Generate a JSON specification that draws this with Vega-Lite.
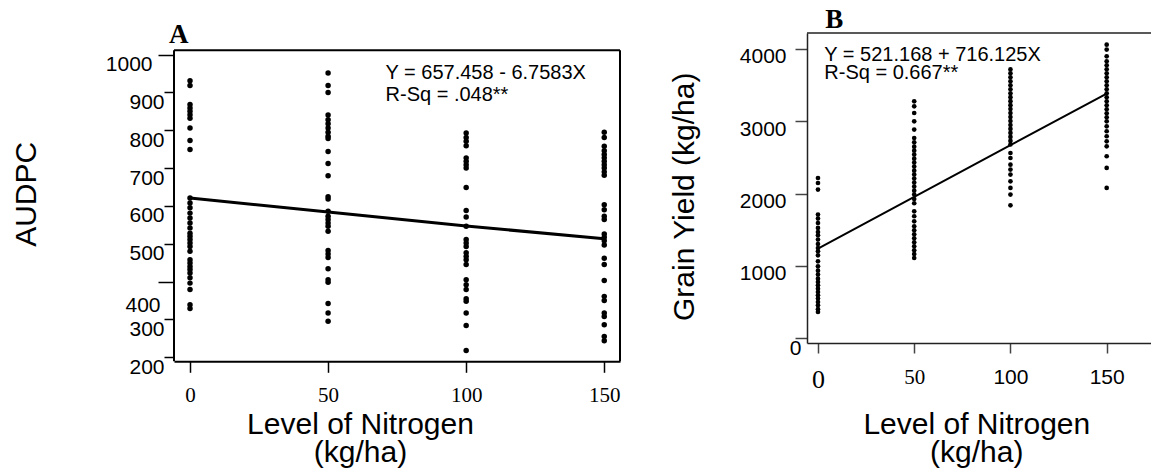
{
  "$schema": "https://vega.github.io/schema/vega-lite/v6.json",
  "padding": {"left": 10, "top": 6, "right": 0, "bottom": 0},
  "background": "white",
  "spacing": 48,
  "config": {
    "font": "Liberation Sans",
    "view": {"stroke": null},
    "axis": {"grid": false, "labelColor": "black", "titleColor": "black", "tickColor": "black", "labelOverlap": false, "labelFlush": false}
  },
  "datasets": {
    "audpc": [
      {"n":0,"v":931},{"n":0,"v":918},{"n":0,"v":868},{"n":0,"v":859},{"n":0,"v":850},{"n":0,"v":841},{"n":0,"v":832},{"n":0,"v":806},{"n":0,"v":773},{"n":0,"v":749},{"n":0,"v":621},{"n":0,"v":608},{"n":0,"v":595},{"n":0,"v":581},{"n":0,"v":568},{"n":0,"v":555},{"n":0,"v":542},{"n":0,"v":528},{"n":0,"v":520},{"n":0,"v":511},{"n":0,"v":502},{"n":0,"v":493},{"n":0,"v":480},{"n":0,"v":458},{"n":0,"v":449},{"n":0,"v":440},{"n":0,"v":432},{"n":0,"v":423},{"n":0,"v":410},{"n":0,"v":396},{"n":0,"v":379},{"n":0,"v":339},{"n":0,"v":329},
      {"n":50,"v":951},{"n":50,"v":918},{"n":50,"v":900},{"n":50,"v":840},{"n":50,"v":828},{"n":50,"v":817},{"n":50,"v":806},{"n":50,"v":795},{"n":50,"v":784},{"n":50,"v":778},{"n":50,"v":744},{"n":50,"v":712},{"n":50,"v":680},{"n":50,"v":624},{"n":50,"v":618},{"n":50,"v":586},{"n":50,"v":573},{"n":50,"v":564},{"n":50,"v":555},{"n":50,"v":546},{"n":50,"v":533},{"n":50,"v":482},{"n":50,"v":473},{"n":50,"v":464},{"n":50,"v":434},{"n":50,"v":405},{"n":50,"v":398},{"n":50,"v":342},{"n":50,"v":317},{"n":50,"v":295},
      {"n":100,"v":793},{"n":100,"v":781},{"n":100,"v":771},{"n":100,"v":759},{"n":100,"v":727},{"n":100,"v":718},{"n":100,"v":709},{"n":100,"v":700},{"n":100,"v":649},{"n":100,"v":588},{"n":100,"v":571},{"n":100,"v":546},{"n":100,"v":511},{"n":100,"v":502},{"n":100,"v":493},{"n":100,"v":476},{"n":100,"v":467},{"n":100,"v":458},{"n":100,"v":445},{"n":100,"v":405},{"n":100,"v":392},{"n":100,"v":379},{"n":100,"v":355},{"n":100,"v":348},{"n":100,"v":317},{"n":100,"v":284},{"n":100,"v":218},
      {"n":150,"v":795},{"n":150,"v":781},{"n":150,"v":758},{"n":150,"v":746},{"n":150,"v":736},{"n":150,"v":727},{"n":150,"v":718},{"n":150,"v":709},{"n":150,"v":700},{"n":150,"v":690},{"n":150,"v":681},{"n":150,"v":603},{"n":150,"v":590},{"n":150,"v":573},{"n":150,"v":564},{"n":150,"v":526},{"n":150,"v":517},{"n":150,"v":508},{"n":150,"v":497},{"n":150,"v":462},{"n":150,"v":445},{"n":150,"v":403},{"n":150,"v":361},{"n":150,"v":350},{"n":150,"v":317},{"n":150,"v":308},{"n":150,"v":286},{"n":150,"v":255},{"n":150,"v":244}
    ],
    "audpcFit": [{"n":0,"v":621},{"n":50,"v":584},{"n":100,"v":547},{"n":150,"v":513}],
    "grain": [
      {"n":0,"v":2216},{"n":0,"v":2147},{"n":0,"v":2055},{"n":0,"v":1709},{"n":0,"v":1654},{"n":0,"v":1593},{"n":0,"v":1524},{"n":0,"v":1468},{"n":0,"v":1422},{"n":0,"v":1363},{"n":0,"v":1302},{"n":0,"v":1247},{"n":0,"v":1201},{"n":0,"v":1145},{"n":0,"v":1062},{"n":0,"v":993},{"n":0,"v":933},{"n":0,"v":878},{"n":0,"v":822},{"n":0,"v":776},{"n":0,"v":730},{"n":0,"v":684},{"n":0,"v":637},{"n":0,"v":591},{"n":0,"v":546},{"n":0,"v":499},{"n":0,"v":453},{"n":0,"v":400},{"n":0,"v":360},
      {"n":50,"v":3278},{"n":50,"v":3209},{"n":50,"v":3116},{"n":50,"v":3001},{"n":50,"v":2886},{"n":50,"v":2770},{"n":50,"v":2710},{"n":50,"v":2650},{"n":50,"v":2595},{"n":50,"v":2540},{"n":50,"v":2484},{"n":50,"v":2429},{"n":50,"v":2374},{"n":50,"v":2318},{"n":50,"v":2263},{"n":50,"v":2208},{"n":50,"v":2152},{"n":50,"v":2097},{"n":50,"v":2041},{"n":50,"v":1986},{"n":50,"v":1925},{"n":50,"v":1866},{"n":50,"v":1755},{"n":50,"v":1686},{"n":50,"v":1616},{"n":50,"v":1547},{"n":50,"v":1492},{"n":50,"v":1436},{"n":50,"v":1381},{"n":50,"v":1325},{"n":50,"v":1270},{"n":50,"v":1215},{"n":50,"v":1163},{"n":50,"v":1108},
      {"n":100,"v":3720},{"n":100,"v":3665},{"n":100,"v":3610},{"n":100,"v":3555},{"n":100,"v":3500},{"n":100,"v":3445},{"n":100,"v":3390},{"n":100,"v":3335},{"n":100,"v":3280},{"n":100,"v":3225},{"n":100,"v":3170},{"n":100,"v":3115},{"n":100,"v":3060},{"n":100,"v":3005},{"n":100,"v":2950},{"n":100,"v":2895},{"n":100,"v":2840},{"n":100,"v":2785},{"n":100,"v":2730},{"n":100,"v":2680},{"n":100,"v":2562},{"n":100,"v":2493},{"n":100,"v":2401},{"n":100,"v":2332},{"n":100,"v":2263},{"n":100,"v":2170},{"n":100,"v":2078},{"n":100,"v":1986},{"n":100,"v":1838},
      {"n":150,"v":4063},{"n":150,"v":3994},{"n":150,"v":3901},{"n":150,"v":3832},{"n":150,"v":3777},{"n":150,"v":3722},{"n":150,"v":3666},{"n":150,"v":3611},{"n":150,"v":3555},{"n":150,"v":3500},{"n":150,"v":3445},{"n":150,"v":3389},{"n":150,"v":3334},{"n":150,"v":3278},{"n":150,"v":3223},{"n":150,"v":3168},{"n":150,"v":3112},{"n":150,"v":3057},{"n":150,"v":3001},{"n":150,"v":2932},{"n":150,"v":2863},{"n":150,"v":2794},{"n":150,"v":2724},{"n":150,"v":2655},{"n":150,"v":2517},{"n":150,"v":2355},{"n":150,"v":2078}
    ],
    "grainFit": [{"n":0,"v":1237},{"n":50,"v":1953},{"n":100,"v":2670},{"n":150,"v":3386}]
  },
  "hconcat": [
    {
      "width": 446,
      "height": 328.3,
      "layer": [
        {
          "data": {"name": "audpc"},
          "mark": {"type": "circle", "size": 30, "color": "black", "opacity": 1},
          "encoding": {
            "x": {"field": "n", "type": "quantitative",
              "scale": {"domain": [-5.8, 155.7], "nice": false, "zero": false},
              "axis": {"values": [0, 50, 100, 150], "format": "d", "title": ["Level of Nitrogen", "(kg/ha)"],
                "titleFont": "Liberation Sans", "titleFontSize": 30, "titleFontWeight": "normal", "titleLineHeight": 28,
                "titleBaseline": "alphabetic", "titleX": 186, "titleY": 72,
                "labelFont": "Liberation Serif", "labelFontSize": 21, "labelPadding": 12, "labelAngle": 0, "labelOverlap": false,
                "tickSize": 11, "tickWidth": 1.5, "domain": true, "domainColor": "black", "domainWidth": 2}},
            "y": {"field": "v", "type": "quantitative",
              "scale": {"domain": [189.4, 1057.0], "nice": false, "zero": false},
              "axis": {"values": [200, 300, 400, 500, 600, 700, 800, 900, 1000], "format": "d", "title": "AUDPC",
                "titleFont": "Liberation Sans", "titleFontSize": 30, "titleFontWeight": "normal", "titleAngle": 270,
                "titleBaseline": "alphabetic", "titleAlign": "center", "titleX": -139, "titleY": 160.8,
                "labelFont": "Liberation Sans", "labelFontSize": 21, "labelBaseline": "middle", "labelOverlap": false, "labelSeparation": -12,
                "labelOffset": {"condition": {"test": "datum.value == 400", "value": 24}, "value": 10},
                "labelPadding": {"condition": [{"test": "datum.value == 1000", "value": 6}, {"test": "datum.value == 400", "value": -2}], "value": 0},
                "tickSize": {"condition": {"test": "datum.value == 1000 || datum.value == 400", "value": 16}, "value": 10},
                "tickWidth": 1.5, "domain": false}}
          }
        },
        {
          "data": {"name": "audpcFit"},
          "mark": {"type": "line", "color": "black", "strokeWidth": 3},
          "encoding": {"x": {"field": "n", "type": "quantitative"}, "y": {"field": "v", "type": "quantitative"}}
        },
        {
          "data": {"values": [{"edge": "top"}]},
          "mark": {"type": "rule", "color": "black", "strokeWidth": 2},
          "encoding": {"y": {"datum": 1011.3, "type": "quantitative"}}
        },
        {
          "data": {"values": [{"edge": "left"}]},
          "mark": {"type": "rule", "color": "black", "strokeWidth": 2},
          "encoding": {"x": {"datum": -5.8, "type": "quantitative"}, "y": {"datum": 189.4, "type": "quantitative"}, "y2": {"datum": 1011.3}}
        },
        {
          "data": {"values": [{"edge": "right"}]},
          "mark": {"type": "rule", "color": "black", "strokeWidth": 2},
          "encoding": {"x": {"datum": 155.7, "type": "quantitative"}, "y": {"datum": 189.4, "type": "quantitative"}, "y2": {"datum": 1011.3}}
        },
        {
          "data": {"values": [{"label": "A"}]},
          "mark": {"type": "text", "align": "left", "baseline": "alphabetic", "font": "Liberation Serif", "fontSize": 27, "fontWeight": "bold", "color": "black"},
          "encoding": {"x": {"datum": -7.6, "type": "quantitative"}, "y": {"datum": 1029.8, "type": "quantitative"}, "text": {"field": "label"}}
        },
        {
          "data": {"values": [{"label": "Y = 657.458 - 6.7583X"}]},
          "mark": {"type": "text", "align": "left", "baseline": "alphabetic", "fontSize": 20, "color": "black"},
          "encoding": {"x": {"datum": 70.8, "type": "quantitative"}, "y": {"datum": 935, "type": "quantitative"}, "text": {"field": "label"}}
        },
        {
          "data": {"values": [{"label": "R-Sq = .048**"}]},
          "mark": {"type": "text", "align": "left", "baseline": "alphabetic", "fontSize": 20, "color": "black"},
          "encoding": {"x": {"datum": 70.8, "type": "quantitative"}, "y": {"datum": 876.5, "type": "quantitative"}, "text": {"field": "label"}}
        }
      ]
    },
    {
      "width": 345.3,
      "height": 310,
      "layer": [
        {
          "data": {"name": "grain"},
          "mark": {"type": "circle", "size": 22, "color": "black", "opacity": 1},
          "encoding": {
            "x": {"field": "n", "type": "quantitative",
              "scale": {"domain": [-5.7, 173.7], "nice": false, "zero": false},
              "axis": {"values": [0, 50, 100, 150], "format": "d", "title": ["Level of Nitrogen", "(kg/ha)"],
                "titleFont": "Liberation Sans", "titleFontSize": 30, "titleFontWeight": "normal", "titleLineHeight": 28,
                "titleBaseline": "alphabetic", "titleX": 169.3, "titleY": 90.3,
                "labelFont": {"condition": {"test": "datum.value <= 50", "value": "Liberation Serif"}, "value": "Liberation Sans"},
                "labelFontSize": {"condition": {"test": "datum.value == 0", "value": 26}, "value": 21},
                "labelPadding": 13.3, "labelAngle": 0, "labelOverlap": false,
                "tickSize": 10, "tickColor": "#444", "tickWidth": 1.5, "domainColor": "#222", "domainWidth": 1.5}},
            "y": {"field": "v", "type": "quantitative",
              "scale": {"domain": [-69, 4224], "nice": false, "zero": false},
              "axis": {"values": [0, 1000, 2000, 3000, 4000], "format": "d", "title": "Grain Yield (kg/ha)",
                "titleFont": "Liberation Sans", "titleFontSize": 30, "titleFontWeight": "normal", "titleAngle": 270,
                "titleBaseline": "alphabetic", "titleAlign": "center", "titleX": -113.7, "titleY": 163.3,
                "labelFont": "Liberation Sans", "labelFontSize": 21, "labelBaseline": "middle", "labelOverlap": false,
                "labelOffset": {"condition": {"test": "datum.value == 0", "value": 10}, "value": 7.7},
                "labelPadding": {"condition": {"test": "datum.value == 0", "value": -6}, "value": 9},
                "tickSize": 12, "tickColor": "#444", "tickWidth": 1.5, "domainColor": "#222", "domainWidth": 1.5}}
          }
        },
        {
          "data": {"name": "grainFit"},
          "mark": {"type": "line", "color": "black", "strokeWidth": 2},
          "encoding": {"x": {"field": "n", "type": "quantitative"}, "y": {"field": "v", "type": "quantitative"}}
        },
        {
          "data": {"values": [{"edge": "top"}]},
          "mark": {"type": "rule", "color": "#222", "strokeWidth": 1.5},
          "encoding": {"y": {"datum": 4224, "type": "quantitative"}}
        },
        {
          "data": {"values": [{"label": "B"}]},
          "mark": {"type": "text", "align": "left", "baseline": "alphabetic", "font": "Liberation Serif", "fontSize": 27, "fontWeight": "bold", "color": "black"},
          "encoding": {"x": {"datum": 3.8, "type": "quantitative"}, "y": {"datum": 4289, "type": "quantitative"}, "text": {"field": "label"}}
        },
        {
          "data": {"values": [{"label": "Y = 521.168 + 716.125X"}]},
          "mark": {"type": "text", "align": "left", "baseline": "alphabetic", "fontSize": 20, "color": "black"},
          "encoding": {"x": {"datum": 3.3, "type": "quantitative"}, "y": {"datum": 3832, "type": "quantitative"}, "text": {"field": "label"}}
        },
        {
          "data": {"values": [{"label": "R-Sq = 0.667**"}]},
          "mark": {"type": "text", "align": "left", "baseline": "alphabetic", "fontSize": 20, "color": "black"},
          "encoding": {"x": {"datum": 3.3, "type": "quantitative"}, "y": {"datum": 3583, "type": "quantitative"}, "text": {"field": "label"}}
        }
      ]
    }
  ]
}
